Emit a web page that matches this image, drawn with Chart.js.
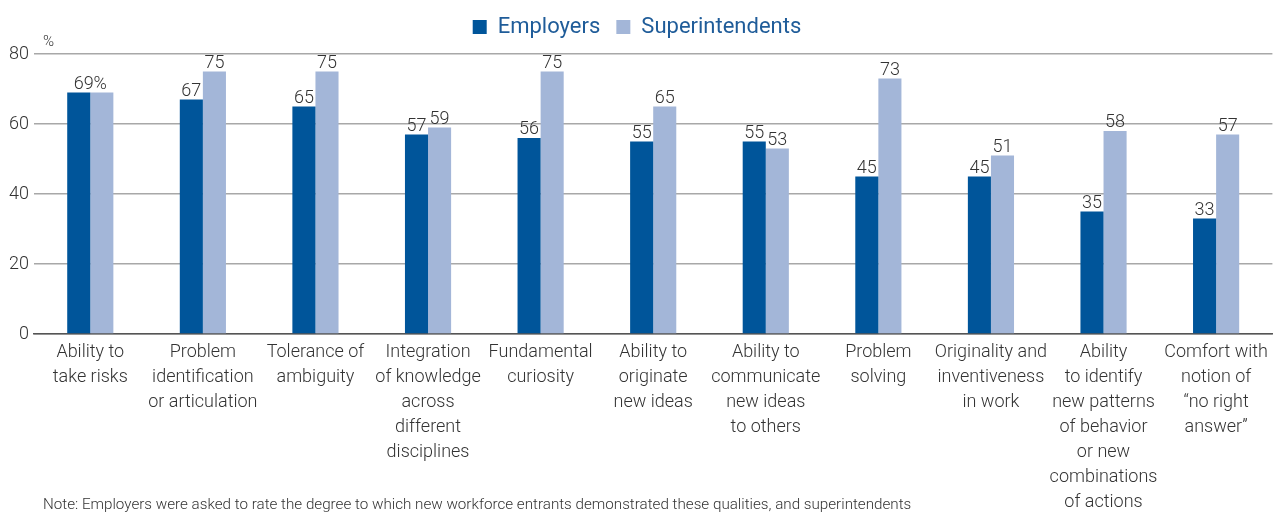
<!DOCTYPE html>
<html>
<head>
<meta charset="utf-8">
<script src="https://cdn.jsdelivr.net/npm/chart.js@4.4.1/dist/chart.umd.min.js"></script>
<style>
  html, body { margin: 0; padding: 0; background: #fff; overflow: hidden; }
  #wrap { position: relative; width: 1274px; height: 513px; }
  #note { position: absolute; left: 43px; top: 495px; font-family: Roboto, sans-serif; font-weight: 300; font-size: 15.2px; line-height: 18px; color: #333; white-space: nowrap; }
</style>
</head>
<body>
<div id="wrap">
  <canvas id="c" width="1274" height="513"></canvas>
  <div id="note">Note: Employers were asked to rate the degree to which new workforce entrants demonstrated these qualities, and superintendents</div>
</div>
<script>
const categories = [
  ["Ability to", "take risks"],
  ["Problem", "identification", "or articulation"],
  ["Tolerance of", "ambiguity"],
  ["Integration", "of knowledge", "across", "different", "disciplines"],
  ["Fundamental", "curiosity"],
  ["Ability to", "originate", "new ideas"],
  ["Ability to", "communicate", "new ideas", "to others"],
  ["Problem", "solving"],
  ["Originality and", "inventiveness", "in work"],
  ["Ability", "to identify", "new patterns", "of behavior", "or new", "combinations", "of actions"],
  ["Comfort with", "notion of", "\u201Cno right", "answer\u201D"]
];
const employers = [69, 67, 65, 57, 56, 55, 55, 45, 45, 35, 33];
const superintendents = [69, 75, 75, 59, 75, 65, 53, 73, 51, 58, 57];
const yTicks = [0, 20, 40, 60, 80];

const FONT = "Roboto, sans-serif";
const DARK = "#00559a";
const LIGHT = "#a3b6d8";
const TEXT = "#333";

const legendHeight = {
  id: "legendHeight",
  beforeInit(chart) {
    const fit = chart.legend.fit;
    chart.legend.fit = function () {
      fit.call(this);
      this.height = 54;
    };
  }
};

const valueLabels = {
  id: "valueLabels",
  afterDatasetsDraw(chart) {
    const ctx = chart.ctx;
    ctx.save();
    ctx.font = "300 18px " + FONT;
    ctx.fillStyle = TEXT;
    ctx.textAlign = "center";
    ctx.textBaseline = "alphabetic";
    const m0 = chart.getDatasetMeta(0), m1 = chart.getDatasetMeta(1);
    for (let i = 0; i < categories.length; i++) {
      const b0 = m0.data[i], b1 = m1.data[i];
      const v0 = employers[i], v1 = superintendents[i];
      if (i === 0) {
        ctx.fillText(v0 + "%", (b0.x + b1.x) / 2, Math.min(b0.y, b1.y) - 4);
      } else {
        ctx.fillText(String(v0), b0.x, b0.y - 4);
        ctx.fillText(String(v1), b1.x, b1.y - 4);
      }
    }
    ctx.restore();
  }
};

const percentSign = {
  id: "percentSign",
  afterDraw(chart) {
    const ctx = chart.ctx;
    const y = chart.scales.y;
    ctx.save();
    ctx.font = "300 15px " + FONT;
    ctx.fillStyle = TEXT;
    ctx.textAlign = "left";
    ctx.textBaseline = "alphabetic";
    ctx.fillText("%", chart.chartArea.left + 9, y.getPixelForValue(80) - 8);
    ctx.restore();
  }
};

new Chart(document.getElementById("c"), {
  type: "bar",
  data: {
    labels: categories,
    datasets: [
      { label: "Employers", data: employers, backgroundColor: DARK, borderWidth: 0 },
      { label: "Superintendents", data: superintendents, backgroundColor: LIGHT, borderWidth: 0 }
    ]
  },
  options: {
    responsive: false,
    animation: false,
    layout: { padding: 0 },
    datasets: { bar: { categoryPercentage: 0.41, barPercentage: 1.0 } },
    plugins: {
      legend: {
        position: "top",
        labels: {
          font: { family: FONT, size: 22, weight: "normal" },
          color: "#1f5c99",
          boxWidth: 14,
          boxHeight: 14,
          padding: 16
        }
      },
      tooltip: { enabled: false }
    },
    scales: {
      x: {
        offset: true,
        grid: { display: false, drawTicks: false },
        border: { display: true, color: "#555", width: 1.5 },
        ticks: {
          font: { family: FONT, size: 18, weight: "300", lineHeight: 1.39 },
          color: TEXT,
          padding: 6,
          maxRotation: 0,
          autoSkip: false
        },
        afterFit(scale) { scale.height = 179; }
      },
      y: {
        min: 0,
        max: 80,
        afterBuildTicks(scale) { scale.ticks = yTicks.map(v => ({ value: v })); },
        grid: { color: "#a8a8a8", lineWidth: 1.5, drawTicks: false },
        border: { display: false },
        ticks: {
          font: { family: FONT, size: 18, weight: "300" },
          color: TEXT,
          padding: 5
        },
        afterFit(scale) { scale.width = 34; }
      }
    }
  },
  plugins: [legendHeight, valueLabels, percentSign]
});
</script>
</body>
</html>
